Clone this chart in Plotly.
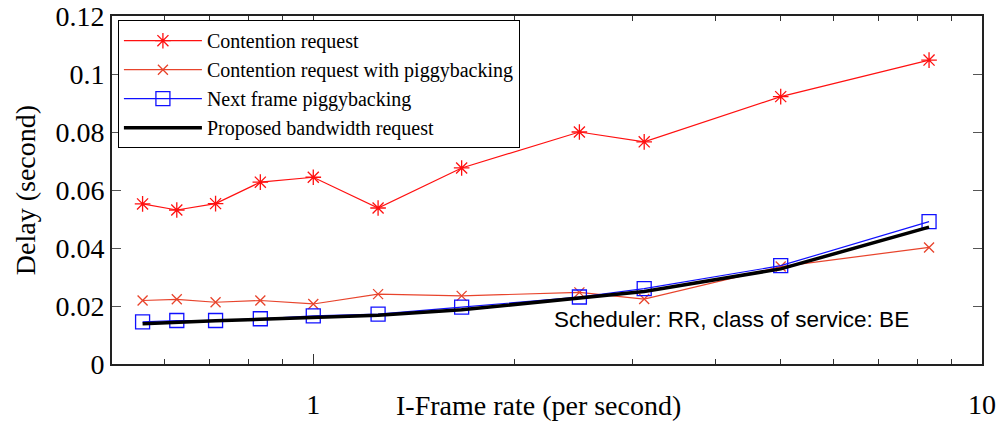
import plotly.graph_objects as go

# I-frame rate (per second) = 25 fps / GOP length
x_rate = [25/45, 25/40, 25/35, 25/30, 25/25, 25/20, 25/15, 25/10, 25/8, 25/5, 25/3]

contention = [0.0552, 0.0531, 0.0553, 0.0627, 0.0644, 0.0538, 0.0676, 0.0800, 0.0766, 0.0922, 0.1048]
contention_pb = [0.0219, 0.0223, 0.0213, 0.0219, 0.0207, 0.0241, 0.0235, 0.0247, 0.0224, 0.0336, 0.0402]
next_frame_pb = [0.0145, 0.0150, 0.0150, 0.0156, 0.0166, 0.0172, 0.0196, 0.0231, 0.0260, 0.0339, 0.0491]
proposed = [0.0139, 0.0145, 0.0149, 0.0154, 0.0160, 0.0168, 0.0187, 0.0228, 0.0250, 0.0328, 0.0472]

y_ticks = [0, 0.02, 0.04, 0.06, 0.08, 0.1, 0.12]
y_ticktext = ["0", "0.02", "0.04", "0.06", "0.08", "0.1", "0.12"]
x_major = [1, 10]
x_minor = [0.6, 0.7, 0.8, 0.9, 2, 3, 4, 5, 6, 7, 8, 9]

serif = "Liberation Serif, Times New Roman, serif"

fig = go.Figure()
fig.add_trace(go.Scatter(
    x=x_rate, y=contention, name="Contention request", mode="lines+markers",
    line=dict(color="#ff1010", width=1.2),
    marker=dict(symbol="asterisk-open", size=13, color="#ff1010", line=dict(color="#ff1010", width=1.3))))
fig.add_trace(go.Scatter(
    x=x_rate, y=contention_pb, name="Contention request with piggybacking", mode="lines+markers",
    line=dict(color="#e8442c", width=1.2),
    marker=dict(symbol="x-thin-open", size=10, color="#e8442c", line=dict(color="#e8442c", width=1.3))))
fig.add_trace(go.Scatter(
    x=x_rate, y=next_frame_pb, name="Next frame piggybacking", mode="lines+markers",
    line=dict(color="#1010ff", width=1.2),
    marker=dict(symbol="square-open", size=14, color="#1010ff", line=dict(color="#1010ff", width=1.3))))
fig.add_trace(go.Scatter(
    x=x_rate, y=proposed, name="Proposed bandwidth request", mode="lines",
    line=dict(color="black", width=3.5)))

fig.update_layout(
    width=1008, height=432,
    margin=dict(l=112, r=20, t=16, b=60),
    paper_bgcolor="white", plot_bgcolor="white",
    font=dict(family=serif, size=28, color="black"),
    showlegend=True,
    legend=dict(
        x=0.0068, y=0.988, xanchor="left", yanchor="top",
        bordercolor="black", borderwidth=1, bgcolor="white",
        font=dict(family=serif, size=20, color="black"),
        itemwidth=78, tracegroupgap=0,
    ),
    xaxis=dict(
        type="log", range=[-0.301, 1.0],
        tickvals=x_major, ticktext=["1", "10"],
        ticks="inside", ticklen=10, tickwidth=1, tickcolor="#333",
        showline=True, linecolor="#222", linewidth=2, mirror="ticks",
        showgrid=False, zeroline=False,
        tickfont=dict(family=serif, size=28),
        ticklabelstandoff=14,
        minor=dict(tickvals=x_minor, ticks="inside", ticklen=5, tickwidth=1, tickcolor="#333", showgrid=False),
    ),
    yaxis=dict(
        range=[0, 0.12], tickvals=y_ticks, ticktext=y_ticktext,
        ticks="inside", ticklen=9, tickwidth=1, tickcolor="#555",
        showline=True, linecolor="#222", linewidth=2, mirror="ticks",
        showgrid=False, zeroline=False,
        tickfont=dict(family=serif, size=28),
        title=dict(text="Delay (second)", font=dict(family=serif, size=28), standoff=12),
        automargin=False,
    ),
    annotations=[
        dict(text="I-Frame rate (per second)", xref="paper", yref="paper",
             x=0.49, y=-0.118, xanchor="center", yanchor="middle", showarrow=False,
             font=dict(family=serif, size=28, color="black")),
        dict(text="Scheduler: RR, class of service: BE", xref="paper", yref="paper",
             x=0.7118, y=0.129, xanchor="center", yanchor="middle", showarrow=False,
             font=dict(family="Liberation Sans, Arial, sans-serif", size=22.5, color="black")),
    ],
)

fig.write_html("out.html")
